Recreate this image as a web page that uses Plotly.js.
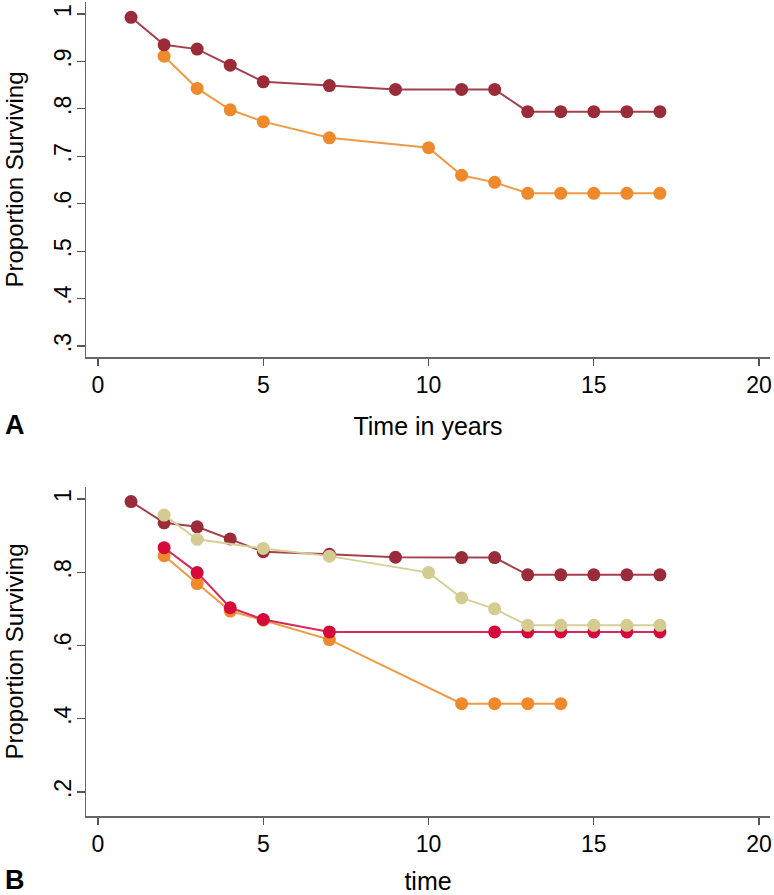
<!DOCTYPE html>
<html>
<head>
<meta charset="utf-8">
<script src="https://cdn.plot.ly/plotly-3.0.1.min.js"></script>
<style>html,body{margin:0;padding:0;background:#fff}#chart{width:774px;height:895px}</style>
</head>
<body>
<div id="chart"></div>
<script>
// Panel A
const timeA1 = [1,2,3,4,5,7,9,11,12,13,14,15,16,17];
const survA1 = [0.993,0.935,0.926,0.892,0.857,0.849,0.841,0.841,0.841,0.794,0.794,0.794,0.794,0.794];
const timeA2 = [2,3,4,5,7,10,11,12,13,14,15,16,17];
const survA2 = [0.911,0.843,0.798,0.773,0.739,0.718,0.660,0.645,0.622,0.622,0.622,0.622,0.622];

// Panel B
const timeB1 = [1,2,3,4,5,7,9,11,12,13,14,15,16,17];
const survB1 = [0.993,0.935,0.924,0.891,0.856,0.849,0.841,0.840,0.840,0.793,0.793,0.793,0.793,0.793];
const timeB2 = [2,3,4,5,7,11,12,13,14];
const survB2 = [0.845,0.769,0.694,0.669,0.616,0.441,0.441,0.441,0.441];
const timeB3 = [2,3,4,5,7,12,13,14,15,16,17];
const survB3 = [0.867,0.799,0.703,0.671,0.637,0.637,0.637,0.637,0.637,0.637,0.637];
const timeB4 = [2,3,5,7,10,11,12,13,14,15,16,17];
const survB4 = [0.956,0.890,0.865,0.844,0.799,0.730,0.700,0.655,0.655,0.655,0.655,0.655];

const xTicks = [0,5,10,15,20];
const yTicksA = [0.3,0.4,0.5,0.6,0.7,0.8,0.9,1];
const yTickTextA = ['.3','.4','.5','.6','.7','.8','.9','1'];
const yTicksB = [0.2,0.4,0.6,0.8,1];
const yTickTextB = ['.2','.4','.6','.8','1'];

const C_DARK = '#9a2b39', C_DARK_L = '#a4404e';
const C_OR = '#ee8a2c', C_OR_L = '#f09a45';
const C_CR = '#d5093a', C_CR_L = '#d8285a';
const C_KH = '#d3cb8f', C_KH_L = '#d6cf98';

function tr(x, y, col, lcol, xa, ya) {
  return {x: x, y: y, type: 'scatter', mode: 'lines+markers', xaxis: xa, yaxis: ya,
    line: {color: lcol, width: 2}, marker: {color: col, size: 13}, showlegend: false, hoverinfo: 'x+y'};
}

const data = [
  tr(timeA2, survA2, C_OR, C_OR_L, 'x', 'y'),
  tr(timeA1, survA1, C_DARK, C_DARK_L, 'x', 'y'),
  tr(timeB1, survB1, C_DARK, C_DARK_L, 'x2', 'y2'),
  tr(timeB2, survB2, C_OR, C_OR_L, 'x2', 'y2'),
  tr(timeB3, survB3, C_CR, C_CR_L, 'x2', 'y2'),
  tr(timeB4, survB4, C_KH, C_KH_L, 'x2', 'y2')
];

const W = 774, H = 895;
const FONT = 'Liberation Sans, Arial, sans-serif';
const xBase = {
  range: [-0.363, 20.33], tickvals: xTicks, ticktext: xTicks.map(String),
  showgrid: false, zeroline: false, showline: true, linecolor: '#666', linewidth: 1.5,
  ticks: 'outside', ticklen: 7, tickwidth: 1.2, tickcolor: '#555',
  tickfont: {family: FONT, size: 23, color: '#000'}, automargin: false, fixedrange: true
};
const yBase = {
  showgrid: false, zeroline: false, showline: true, linecolor: '#666', linewidth: 1.5,
  ticks: 'outside', ticklen: 8, tickwidth: 1.2, tickcolor: '#555', tickangle: -90,
  ticklabelstandoff: -4,
  tickfont: {family: FONT, size: 23, color: '#000'}, automargin: false, fixedrange: true
};

const layout = {
  width: W, height: H, margin: {l: 0, r: 0, t: 0, b: 0},
  paper_bgcolor: '#fff', plot_bgcolor: '#fff',
  xaxis: Object.assign({}, xBase, {domain: [86/W, 770/W], anchor: 'y',
    title: {text: 'Time in years', font: {family: FONT, size: 25, color: '#000'}, standoff: 20}}),
  yaxis: Object.assign({}, yBase, {domain: [1-357/H, 1-2/H], anchor: 'x', range: [0.2768, 1.0253],
    tickvals: yTicksA, ticktext: yTickTextA,
    title: {text: 'Proportion Surviving', font: {family: FONT, size: 24, color: '#000'}, standoff: 20}}),
  xaxis2: Object.assign({}, xBase, {domain: [86/W, 770/W], anchor: 'y2',
    title: {text: 'time', font: {family: FONT, size: 25, color: '#000'}, standoff: 16}}),
  yaxis2: Object.assign({}, yBase, {domain: [1-816/H, 1-487/H], anchor: 'x2', range: [0.1343, 1.0328],
    tickvals: yTicksB, ticktext: yTickTextB,
    title: {text: 'Proportion Surviving', font: {family: FONT, size: 24, color: '#000'}, standoff: 20}}),
  annotations: [
    {text: '<b>A</b>', xref: 'paper', yref: 'paper', x: 15/W, y: 1-425/H, xanchor: 'center', yanchor: 'middle',
      showarrow: false, font: {family: FONT, size: 27, color: '#000'}},
    {text: '<b>B</b>', xref: 'paper', yref: 'paper', x: 15/W, y: 1-880/H, xanchor: 'center', yanchor: 'middle',
      showarrow: false, font: {family: FONT, size: 27, color: '#000'}}
  ]
};

Plotly.newPlot('chart', data, layout, {displayModeBar: false, staticPlot: true});
</script>
</body>
</html>
